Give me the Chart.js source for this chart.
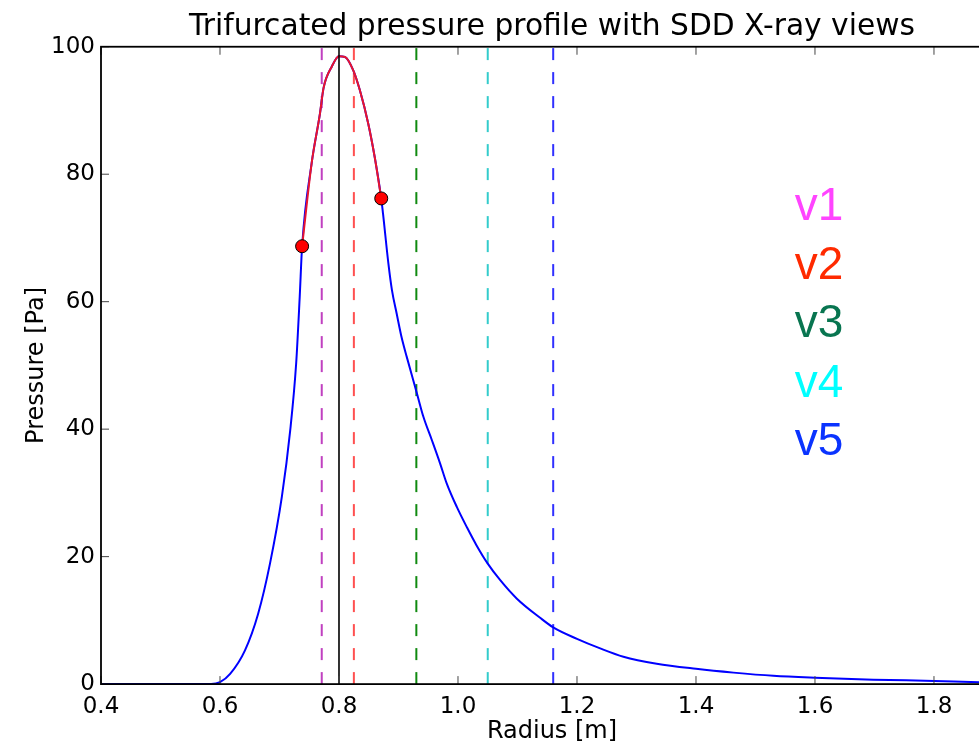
<!DOCTYPE html>
<html>
<head>
<meta charset="utf-8">
<script src="https://cdn.jsdelivr.net/npm/chart.js@4.4.1/dist/chart.umd.min.js"></script>
<style>
  html, body { margin: 0; padding: 0; background: #fff; overflow: hidden; }
  #wrap { width: 979px; height: 744px; overflow: hidden; }
</style>
</head>
<body>
<div id="wrap"><canvas id="chart" width="1104" height="744"></canvas></div>
<script>
// full pressure profile (blue)
const radius = [0.40, 0.55, 0.585, 0.600, 0.617, 0.642, 0.664, 0.684, 0.704, 0.718, 0.728, 0.734, 0.738,
  0.754, 0.768, 0.774, 0.788, 0.800, 0.810, 0.824, 0.835, 0.849, 0.860, 0.871,
  0.874, 0.883, 0.889, 0.897, 0.905, 0.914, 0.931, 0.942, 0.956, 0.970, 0.981, 0.998,
  1.015, 1.031, 1.050, 1.071, 1.099, 1.138, 1.160, 1.200, 1.239, 1.278, 1.334, 1.400,
  1.463, 1.530, 1.600, 1.698, 1.800, 1.876, 1.916];
const pressure = [0, 0, 0, 0.3, 1.6, 5.3, 11.0, 18.9, 29.4, 39.8, 50.3, 60.8, 68.7,
  81.7, 89.5, 93.5, 96.9, 98.5, 98.4, 96.3, 93.2, 88.0, 82.7, 76.2,
  73.8, 66.0, 61.8, 58.1, 54.5, 51.3, 45.6, 41.9, 38.3, 34.6, 31.5, 27.8,
  24.6, 21.8, 18.9, 16.3, 13.4, 10.4, 8.9, 7.1, 5.6, 4.3, 3.2, 2.4,
  1.8, 1.3, 1.0, 0.7, 0.5, 0.3, 0.25];

// trifurcated core (red) and its end points
const coreRadius   = [0.738, 0.754, 0.768, 0.774, 0.788, 0.800, 0.810, 0.824, 0.835, 0.849, 0.860, 0.871];
const corePressure = [68.7, 81.7, 89.5, 93.5, 96.9, 98.5, 98.4, 96.3, 93.2, 88.0, 82.7, 76.2];
const edgeRadius   = [0.738, 0.871];
const edgePressure = [68.7, 76.2];

const axisRadius = 0.80;

// SDD views
const viewNames  = ['v1', 'v2', 'v3', 'v4', 'v5'];
const viewRadius = [0.771, 0.825, 0.930, 1.050, 1.160];
const viewLineColors = ['#c040c0', '#ff5050', '#108a10', '#33cccc', '#3030ff'];
const viewTextColors = ['#ff44ff', '#ff2a00', '#087550', '#00ffff', '#0a33ff'];

// where the view names sit, in data units
const labelAt = { x: 1.566, y: [72.8, 63.6, 54.5, 45.1, 35.9] };

const pts = (xs, ys) => xs.map((x, i) => ({ x, y: ys[i] }));
const vline = x => [{ x, y: 0 }, { x, y: 100 }];

Chart.defaults.font.family = '"DejaVu Sans", sans-serif';
Chart.defaults.color = '#000';

// axes box, inward ticks and the view names
const frame = {
  id: 'frame',
  afterDatasetsDraw(chart) {
    const { ctx, chartArea: a, scales: { x, y } } = chart;
    ctx.save();
    ctx.lineWidth = 1;
    ctx.strokeStyle = '#444';
    ctx.beginPath();
    x.ticks.forEach(t => {
      const px = x.getPixelForValue(t.value);
      ctx.moveTo(px, a.bottom); ctx.lineTo(px, a.bottom - 8);
      ctx.moveTo(px, a.top); ctx.lineTo(px, a.top + 8);
    });
    y.ticks.forEach(t => {
      const py = y.getPixelForValue(t.value);
      ctx.moveTo(a.left, py); ctx.lineTo(a.left + 8, py);
      ctx.moveTo(a.right, py); ctx.lineTo(a.right - 8, py);
    });
    ctx.stroke();
    ctx.lineWidth = 1.8;
    ctx.strokeStyle = '#000';
    ctx.strokeRect(a.left, a.top, a.right - a.left, a.bottom - a.top);

    ctx.font = '46px "Liberation Sans", Arial, sans-serif';
    ctx.textAlign = 'left';
    ctx.textBaseline = 'alphabetic';
    viewNames.forEach((n, i) => {
      ctx.fillStyle = viewTextColors[i];
      ctx.fillText(n, x.getPixelForValue(labelAt.x), y.getPixelForValue(labelAt.y[i]));
    });
    ctx.restore();
  }
};

const datasets = [
  { data: pts(edgeRadius, edgePressure), showLine: false, pointRadius: 6.5,
    pointBackgroundColor: '#ff0000', pointBorderColor: '#000', pointBorderWidth: 1, order: 0 },
  { data: vline(axisRadius), borderColor: '#000', borderWidth: 1.6, pointRadius: 0, order: 1 },
  { data: pts(coreRadius, corePressure), borderColor: '#e8142e', borderWidth: 2,
    pointRadius: 0, cubicInterpolationMode: 'monotone', order: 2 },
  { data: pts(radius, pressure), borderColor: '#0000ff', borderWidth: 2,
    pointRadius: 0, cubicInterpolationMode: 'monotone', order: 3 },
  ...viewRadius.map((r, i) => ({
    data: vline(r), borderColor: viewLineColors[i], borderWidth: 2,
    borderDash: [12, 12], pointRadius: 0, order: 4 + i
  }))
];

new Chart(document.getElementById('chart'), {
  type: 'line',
  data: { datasets },
  options: {
    responsive: false,
    animation: false,
    devicePixelRatio: 1,
    layout: { padding: { left: 0, right: 101, top: 0, bottom: 0 } },
    plugins: {
      legend: { display: false },
      tooltip: { enabled: false },
      title: {
        display: true,
        fullSize: false,
        text: 'Trifurcated pressure profile with SDD X-ray views',
        font: { size: 29.7, weight: 'normal' },
        color: '#000',
        padding: { top: 9, bottom: 2.1 }
      }
    },
    scales: {
      x: {
        type: 'linear', min: 0.4, max: 1.916,
        grid: { display: false, drawTicks: false }, border: { display: false },
        ticks: { stepSize: 0.2, includeBounds: false, autoSkip: false, maxRotation: 0,
          padding: 5, font: { size: 23, lineHeight: 1.6 }, callback: v => v.toFixed(1) },
        title: { display: true, text: 'Radius [m]', font: { size: 24, lineHeight: 1.0 }, padding: { top: -11.5, bottom: 0.6 } }
      },
      y: {
        min: 0, max: 100,
        grid: { display: false, drawTicks: false }, border: { display: false },
        ticks: { stepSize: 20, padding: 6, font: { size: 23 } },
        title: { display: true, text: 'Pressure [Pa]', font: { size: 24 }, padding: { top: 22, bottom: 0 } },
        afterFit: s => { s.width = 101; }
      }
    }
  },
  plugins: [frame]
});
</script>
</body>
</html>
